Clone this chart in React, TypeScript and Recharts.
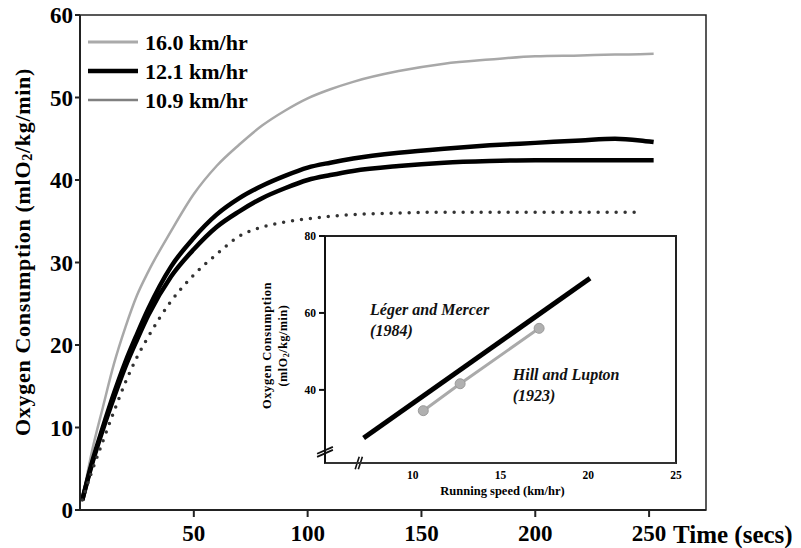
import React from 'react';
import {
  LineChart,
  Line,
  XAxis,
  YAxis,
  Legend,
  ReferenceArea,
  ReferenceLine,
  ReferenceDot,
} from 'recharts';

const FONT = '"Liberation Serif", "Times New Roman", serif';

// ---- main chart data (oxygen consumption vs time) ----
const timeSecs = [1, 5, 10, 15, 20, 25, 30, 40, 50, 60, 70, 80, 90, 100, 110, 120, 140, 160, 180, 200, 220, 235, 246, 252];
const vo2At16_0 = [1.2, 6.8, 12.4, 17.8, 22.2, 26.0, 28.9, 33.8, 38.3, 41.7, 44.3, 46.6, 48.4, 49.9, 51.0, 51.9, 53.2, 54.1, 54.6, 55.0, 55.1, 55.2, 55.25, 55.3];
const vo2At12_1 = [1.2, 5.5, 10.0, 14.2, 18.0, 21.3, 24.4, 29.5, 33.0, 35.8, 37.8, 39.3, 40.5, 41.5, 42.1, 42.6, 43.3, 43.8, 44.2, 44.5, 44.8, 45.0, 44.8, 44.6];
const vo2Second = [1.2, 5.3, 9.7, 13.7, 17.4, 20.6, 23.6, 28.3, 31.6, 34.3, 36.2, 37.8, 39.0, 40.0, 40.6, 41.1, 41.7, 42.1, 42.3, 42.4, 42.4, 42.4, 42.4, 42.4];
const vo2At10_9 = [1.2, 4.5, 8.3, 12.0, 15.5, 18.5, 21.0, 25.3, 28.5, 31.0, 33.2, 34.3, 34.9, 35.3, 35.6, 35.8, 36.0, 36.1, 36.1, 36.1, 36.1, 36.1, 36.1, null];

const legendLabels = ['16.0 km/hr', '12.1 km/hr', '10.9 km/hr'];
const mainTicksX = [50, 100, 150, 200, 250];
const mainTicksY = [0, 10, 20, 30, 40, 50, 60];

// ---- inset data (oxygen consumption vs running speed) ----
const legerSpeed = [7.2, 20.1];
const legerVO2 = [27.5, 69.0];
const hillSpeed = [10.6, 12.7, 17.2];
const hillVO2 = [34.6, 41.6, 56.0];
const insetTicksX = [10, 15, 20, 25];
const insetTicksY = [40, 60, 80];

const mainRows = timeSecs.map((t, i) => ({
  t,
  v16: vo2At16_0[i],
  v12: vo2At12_1[i],
  v2: vo2Second[i],
  v109: vo2At10_9[i],
}));
const legerRows = legerSpeed.map((s, i) => ({ speed: s, vo2: legerVO2[i] }));
const hillRows = hillSpeed.map((s, i) => ({ speed: s, vo2: hillVO2[i] }));

const legendSamples = [
  { color: '#aaaaaa', width: 3 },
  { color: '#000000', width: 4.5 },
  { color: '#808080', width: 2.5 },
];

const MainLegend = () => (
  <div style={{ fontFamily: FONT, fontWeight: 700, fontSize: 22, color: '#000' }}>
    {legendLabels.map((lab, i) => (
      <div key={lab} style={{ display: 'flex', alignItems: 'center', height: 29 }}>
        <svg width={50} height={10} style={{ display: 'block' }}>
          <line x1={0} x2={50} y1={5} y2={5} stroke={legendSamples[i].color} strokeWidth={legendSamples[i].width} />
        </svg>
        <span style={{ marginLeft: 7, lineHeight: '29px' }}>{lab}</span>
      </div>
    ))}
  </div>
);

const MainYLabel = (props: any) => {
  const vb = props.viewBox || {};
  const cx = vb.x + 2;
  const cy = vb.y + vb.height / 2 - 10.5;
  return (
    <text
      x={cx}
      y={cy}
      transform={`rotate(-90 ${cx} ${cy})`}
      textAnchor="middle"
      dominantBaseline="central"
      fontFamily={FONT}
      fontWeight={700}
      fontSize={22}
      letterSpacing={0.7}
      fill="#000"
    >
      Oxygen Consumption (mlO<tspan fontSize={14} dy={5}>2</tspan>
      <tspan dy={-5}>/kg/min)</tspan>
    </text>
  );
};

const TimeLabel = (props: any) => {
  const vb = props.viewBox || {};
  return (
    <text
      x={vb.x + vb.width - 33}
      y={vb.y + 33}
      fontFamily={FONT}
      fontWeight={700}
      fontSize={25}
      fill="#000"
    >
      Time (secs)
    </text>
  );
};

const InsetYLabel = (props: any) => {
  const vb = props.viewBox || {};
  const cy = vb.y + vb.height / 2 - 4;
  const x1 = vb.x - 18;
  const x2 = vb.x - 2;
  return (
    <g fontFamily={FONT} fontWeight={700} fill="#000">
      <text x={x1} y={cy} transform={`rotate(-90 ${x1} ${cy})`} textAnchor="middle" dominantBaseline="central" fontSize={12.5} letterSpacing={0.6}>
        Oxygen Consumption
      </text>
      <text x={x2} y={cy} transform={`rotate(-90 ${x2} ${cy})`} textAnchor="middle" dominantBaseline="central" fontSize={12} letterSpacing={0.6}>
        (mlO<tspan fontSize={8} dy={3}>2</tspan><tspan dy={-3}>/kg/min)</tspan>
      </text>
    </g>
  );
};

const InsetXLabel = (props: any) => {
  const vb = props.viewBox || {};
  return (
    <text
      x={vb.x + vb.width / 2 + 2}
      y={vb.y + 32}
      textAnchor="middle"
      fontFamily={FONT}
      fontWeight={700}
      fontSize={12.5}
      fill="#000"
    >
      Running speed (km/hr)
    </text>
  );
};

const makeAnnotation = (lines: string[]) => (props: any) => {
  const vb = props.viewBox || {};
  return (
    <text x={vb.x} y={vb.y} fontFamily={FONT} fontStyle="italic" fontWeight={700} fontSize={16} fill="#111">
      {lines.map((l, i) => (
        <tspan key={i} x={vb.x} dy={i === 0 ? 0 : 21}>
          {l}
        </tspan>
      ))}
    </text>
  );
};

const mainTick = { fill: '#000', fontSize: 23, fontWeight: 700, fontFamily: FONT };
const insetTick = { fill: '#000', fontSize: 11.5, fontWeight: 700, fontFamily: FONT };

export default function App() {
  return (
    <div style={{ position: 'absolute', left: 0, top: 0, width: 801, height: 548, background: '#fff' }}>
      <LineChart width={801} height={548} data={mainRows} margin={{ top: 15, right: 95, bottom: 8, left: 20 }}>
        <ReferenceArea x1={0} x2={275} y1={0} y2={60} fill="none" stroke="#222" strokeWidth={1.5} />
        <XAxis
          type="number"
          dataKey="t"
          domain={[0, 275]}
          ticks={mainTicksX}
          height={30}
          tickSize={7}
          tickMargin={8}
          axisLine={{ stroke: '#222', strokeWidth: 2 }}
          tickLine={{ stroke: '#222', strokeWidth: 2 }}
          tick={mainTick}
          label={TimeLabel}
        />
        <YAxis
          type="number"
          domain={[0, 60]}
          ticks={mainTicksY}
          width={60}
          tickSize={5}
          tickMargin={2}
          axisLine={{ stroke: '#222', strokeWidth: 2 }}
          tickLine={{ stroke: '#222', strokeWidth: 2 }}
          tick={mainTick}
          label={MainYLabel}
        />
        <Line type="monotone" dataKey="v16" stroke="#a8a8a8" strokeWidth={2.5} dot={false} activeDot={false} isAnimationActive={false} connectNulls />
        <Line type="monotone" dataKey="v12" stroke="#000" strokeWidth={4.5} dot={false} activeDot={false} isAnimationActive={false} connectNulls />
        <Line type="monotone" dataKey="v2" stroke="#000" strokeWidth={4.5} dot={false} activeDot={false} isAnimationActive={false} connectNulls />
        <Line
          type="monotone"
          dataKey="v109"
          stroke="#333"
          strokeWidth={3.5}
          strokeDasharray="0 9"
          strokeLinecap="round"
          dot={false}
          activeDot={false}
          isAnimationActive={false}
          connectNulls
        />
        <Legend
          layout="horizontal"
          verticalAlign="middle"
          align="center"
          content={MainLegend}
          wrapperStyle={{ left: 88, top: 27.5, width: 260 }}
        />
      </LineChart>

      <div style={{ position: 'absolute', left: 250, top: 225 }}>
        <LineChart width={440} height={275} margin={{ top: 11, right: 14, bottom: 0, left: 35 }}>
          <ReferenceArea x1={5} x2={25} y1={21} y2={80} fill="#fff" fillOpacity={1} stroke="#222" strokeWidth={2} />
          <XAxis
            type="number"
            dataKey="speed"
            domain={[5, 25]}
            ticks={insetTicksX}
            height={37}
            tickSize={0}
            tickMargin={8}
            tickLine={false}
            axisLine={{ stroke: '#333', strokeWidth: 2 }}
            tick={insetTick}
            label={InsetXLabel}
          />
          <YAxis
            type="number"
            dataKey="vo2"
            domain={[21, 80]}
            ticks={insetTicksY}
            width={40}
            tickSize={6}
            tickMargin={3}
            axisLine={{ stroke: '#111', strokeWidth: 2 }}
            tickLine={{ stroke: '#111', strokeWidth: 2 }}
            tick={insetTick}
            label={InsetYLabel}
          />
          <ReferenceLine segment={[{ x: 4.55, y: 22.6 }, { x: 5.45, y: 24.4 }]} stroke="#111" strokeWidth={1.8} ifOverflow="visible" />
          <ReferenceLine segment={[{ x: 4.55, y: 23.4 }, { x: 5.45, y: 25.2 }]} stroke="#111" strokeWidth={1.8} ifOverflow="visible" />
          <ReferenceLine segment={[{ x: 6.72, y: 19.4 }, { x: 6.95, y: 22.6 }]} stroke="#111" strokeWidth={1.6} ifOverflow="visible" />
          <ReferenceLine segment={[{ x: 6.9, y: 19.4 }, { x: 7.13, y: 22.6 }]} stroke="#111" strokeWidth={1.6} ifOverflow="visible" />
          <Line
            data={legerRows}
            dataKey="vo2"
            type="linear"
            stroke="#000"
            strokeWidth={5}
            dot={false}
            activeDot={false}
            isAnimationActive={false}
          />
          <Line
            data={hillRows}
            dataKey="vo2"
            type="linear"
            stroke="#aaaaaa"
            strokeWidth={3}
            dot={{ r: 5, fill: '#b0b0b0', stroke: '#9a9a9a', strokeWidth: 1 }}
            activeDot={false}
            isAnimationActive={false}
          />
          <ReferenceDot x={7.57} y={59.5} r={0} fill="none" stroke="none" label={makeAnnotation(['Léger and Mercer', '(1984)'])} />
          <ReferenceDot x={15.7} y={42.6} r={0} fill="none" stroke="none" label={makeAnnotation(['Hill and Lupton', '(1923)'])} />
        </LineChart>
      </div>
    </div>
  );
}
